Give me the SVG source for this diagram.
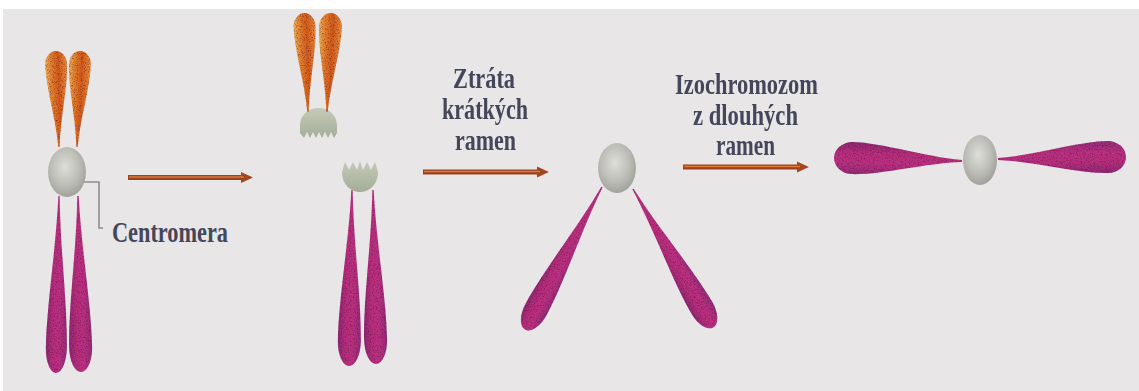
<svg xmlns="http://www.w3.org/2000/svg" xmlns:xlink="http://www.w3.org/1999/xlink" width="1139" height="391" viewBox="0 0 1139 391">
  <style>
    .label { font-family: "Liberation Serif", "Times New Roman", serif; font-weight: bold; font-size: 30px; fill: #44465a; }
    .arm-orange { fill: url(#orangeArm); }
    .arm-pink { fill: url(#pinkArm); }
    .centromere { fill: url(#centroFill); }
    .fragment { fill: url(#fragFill); }
    .shaft-outer { stroke: #9a4120; stroke-width: 5; fill: none; stroke-linecap: butt; }
    .shaft-inner { stroke: #de7a34; stroke-width: 1.6; fill: none; }
    .pointer { stroke: #8d8d90; stroke-width: 1.6; fill: none; }
  </style>
  <defs>
    <!-- unit teardrop: pointed tip at origin, rounded end at x=1, width 1 -->
    <path id="drop" d="M0,-0.03 C0.3,-0.1 0.62,-0.5 0.86,-0.5 A0.14,0.5 0 0 1 0.86,0.5 C0.62,0.5 0.3,0.1 0,0.03 Z"/>
    <linearGradient id="orangeArm" x1="0" y1="0" x2="0" y2="1">
      <stop offset="0" stop-color="#f0b058"/>
      <stop offset="0.3" stop-color="#e27e2c"/>
      <stop offset="0.6" stop-color="#d35a1a"/>
      <stop offset="1" stop-color="#ea903e"/>
    </linearGradient>
    <linearGradient id="pinkArm" x1="0" y1="0" x2="0" y2="1">
      <stop offset="0" stop-color="#932c7a"/>
      <stop offset="0.35" stop-color="#bb3082"/>
      <stop offset="0.65" stop-color="#b82e7e"/>
      <stop offset="1" stop-color="#8e2874"/>
    </linearGradient>
    <radialGradient id="centroFill" cx="0.45" cy="0.4" r="0.62">
      <stop offset="0" stop-color="#dededa"/>
      <stop offset="0.6" stop-color="#bdbdb7"/>
      <stop offset="1" stop-color="#9fa09a"/>
    </radialGradient>
    <linearGradient id="fragFill" x1="0" y1="0" x2="0" y2="1">
      <stop offset="0" stop-color="#c4cab8"/>
      <stop offset="1" stop-color="#a3ae98"/>
    </linearGradient>
    <!-- speckled print texture for the chromatids -->
    <filter id="grain" x="-10%" y="-10%" width="120%" height="120%" color-interpolation-filters="sRGB">
      <feTurbulence type="fractalNoise" baseFrequency="0.75" numOctaves="2" seed="7" result="noise"/>
      <feColorMatrix in="noise" type="matrix" values="0 0 0 0 0.3  0 0 0 0 0.05  0 0 0 0 0.15  1.5 0 0 0 -0.72" result="specks"/>
      <feComposite in="specks" in2="SourceGraphic" operator="in" result="clipped"/>
      <feMerge><feMergeNode in="SourceGraphic"/><feMergeNode in="clipped"/></feMerge>
      <feGaussianBlur stdDeviation="0.5"/>
    </filter>
    <marker id="head" markerUnits="userSpaceOnUse" markerWidth="13" markerHeight="12" refX="3" refY="6" orient="auto">
      <path d="M0,0.5 L12,6 L0,11.5 Z" fill="#a2461f"/>
    </marker>
  </defs>

  <!-- page -->
  <rect x="0" y="0" width="1139" height="391" fill="#ffffff"/>
  <rect x="3" y="9" width="1136" height="382" fill="#e8e6e7"/>

  <!-- connectors -->
  <g id="connectors">
    <g id="arrow-1">
      <path class="shaft-outer" d="M128,177.5 H244" marker-end="url(#head)"/>
      <path class="shaft-inner" d="M129,177 H244"/>
    </g>
    <g id="arrow-2">
      <path class="shaft-outer" d="M423,172 H540" marker-end="url(#head)"/>
      <path class="shaft-inner" d="M424,171.5 H540"/>
    </g>
    <g id="arrow-3">
      <path class="shaft-outer" d="M683,167 H800" marker-end="url(#head)"/>
      <path class="shaft-inner" d="M684,166.5 H800"/>
    </g>
    <path id="centromere-pointer" class="pointer" d="M84,182 H99 V228 H103"/>
  </g>

  <!-- normal chromosome -->
  <g id="chromosome-normal">
    <g filter="url(#grain)">
      <use href="#drop" class="arm-orange" transform="translate(59,147) rotate(-92) scale(96,22)"/>
      <use href="#drop" class="arm-orange" transform="translate(77,147) rotate(-88) scale(96,22)"/>
      <use href="#drop" class="arm-pink" transform="translate(59,196) rotate(91) scale(177,21)"/>
      <use href="#drop" class="arm-pink" transform="translate(78,196) rotate(89) scale(176,23)"/>
    </g>
    <ellipse class="centromere" cx="67" cy="172" rx="19" ry="25"/>
  </g>

  <g id="label-centromera">
    <text class="label" x="112" y="242" textLength="116" lengthAdjust="spacingAndGlyphs">Centromera</text>
  </g>

  <!-- chromosome broken across the centromere -->
  <g id="chromosome-broken">
    <path class="fragment" d="M300,126 C300,115 308,108 318.5,108 C329,108 337,115 337,126 L337,133 L334,138 L331,132 L328,138 L325,132 L322,138 L319,132 L316,138 L313,132 L310,138 L307,132 L304,138 L300,133 Z"/>
    <g filter="url(#grain)">
      <use href="#drop" class="arm-orange" transform="translate(308,112) rotate(-92.3) scale(99,22)"/>
      <use href="#drop" class="arm-orange" transform="translate(327,112) rotate(-87.7) scale(99,23)"/>
      <use href="#drop" class="arm-pink" transform="translate(352,190) rotate(91) scale(176,23)"/>
      <use href="#drop" class="arm-pink" transform="translate(373,190) rotate(89) scale(174,23)"/>
    </g>
    <path class="fragment" d="M342,172 L345,162 L349,170 L353,162 L357,170 L360,161 L363,170 L367,162 L371,170 L375,162 L378,172 C378,184 370,192 360,192 C350,192 342,184 342,172 Z"/>
  </g>

  <g id="label-ztrata">
    <text class="label" x="453" y="88" textLength="62" lengthAdjust="spacingAndGlyphs">Ztráta</text>
    <text class="label" x="442" y="118.5" textLength="86" lengthAdjust="spacingAndGlyphs">krátkých</text>
    <text class="label" x="455" y="150" textLength="61" lengthAdjust="spacingAndGlyphs">ramen</text>
  </g>

  <!-- long arms only -->
  <g id="chromosome-long-arms">
    <g filter="url(#grain)">
      <use href="#drop" class="arm-pink" transform="translate(602,187) rotate(118.3) scale(162,24)"/>
      <use href="#drop" class="arm-pink" transform="translate(633,189) rotate(59.9) scale(160,24)"/>
    </g>
    <ellipse class="centromere" cx="617" cy="168" rx="19" ry="25"/>
  </g>

  <g id="label-izochromozom">
    <text class="label" x="675" y="94" textLength="143" lengthAdjust="spacingAndGlyphs">Izochromozom</text>
    <text class="label" x="693" y="125" textLength="105" lengthAdjust="spacingAndGlyphs">z dlouhých</text>
    <text class="label" x="716" y="155" textLength="59" lengthAdjust="spacingAndGlyphs">ramen</text>
  </g>

  <!-- isochromosome -->
  <g id="isochromosome">
    <g filter="url(#grain)">
      <use href="#drop" class="arm-pink" transform="translate(962,161) rotate(181.5) scale(128,32)"/>
      <use href="#drop" class="arm-pink" transform="translate(998,159) rotate(-1) scale(128,32)"/>
    </g>
    <ellipse class="centromere" cx="980" cy="160" rx="17" ry="25"/>
  </g>
</svg>
